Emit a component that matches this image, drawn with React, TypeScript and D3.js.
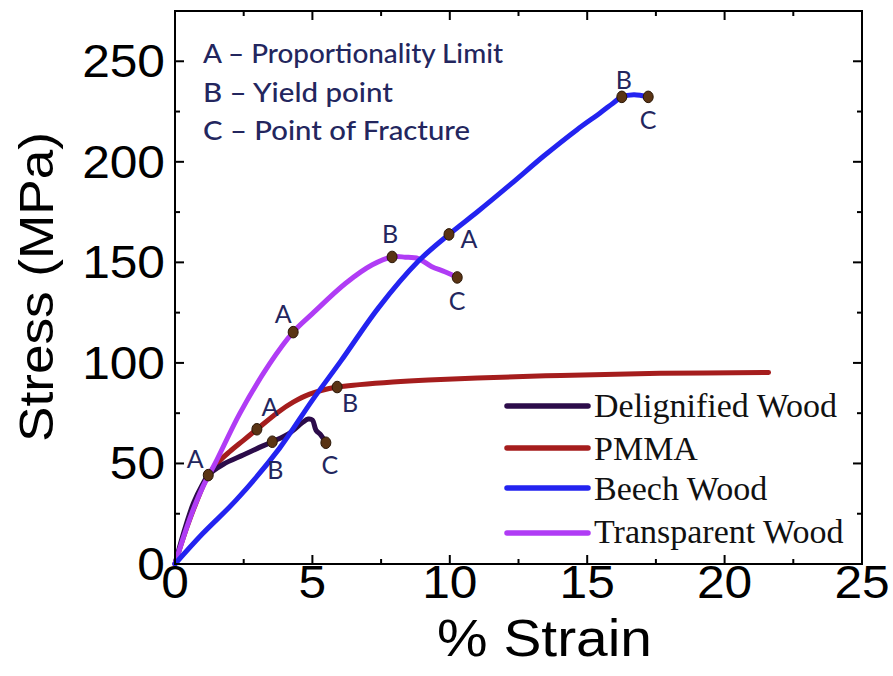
import React from 'react';
import * as d3 from 'd3';

// ---- data ----
const strainTicks = [0, 5, 10, 15, 20, 25];
const stressTicks = [0, 50, 100, 150, 200, 250];
const strainMinor = [2.5, 7.5, 12.5, 17.5, 22.5];
const stressMinor = [25, 75, 125, 175, 225];

const delignifiedStrain = [0, 0.31, 0.67, 1.0, 1.21, 1.76, 2.48, 3.0, 3.54, 4.16, 4.64, 4.85, 5.0, 5.13, 5.31, 5.49];
const delignifiedStress = [0, 15.3, 30.2, 39.5, 44.2, 49.6, 54.2, 57.5, 60.8, 65, 70.4, 72.1, 71.6, 66.6, 64.1, 60.3];

const pmmaStrain = [0, 0.3, 0.7, 1.21, 1.6, 2.0, 2.49, 2.98, 3.75, 4.3, 4.9, 5.9, 6.72, 7.93, 9.22, 11, 14.04, 17.65, 21.6];
const pmmaStress = [0, 13, 28, 44.2, 51, 56, 61.5, 67, 75.5, 80.5, 84.5, 88, 89.2, 90.5, 91.5, 92.5, 93.8, 94.8, 95.2];

const beechStrain = [0, 1, 2.24, 3.8, 5.0, 6.04, 7.41, 8.85, 9.97, 11.03, 12.23, 13.43, 14.63, 15.47, 15.95, 16.26, 16.7, 17.22];
const beechStress = [0, 15, 32, 57.5, 81.5, 101, 127.5, 150.5, 163.9, 175.4, 189, 203, 216, 224.3, 229.3, 232.3, 233.4, 232.3];

const transparentStrain = [0, 0.3, 0.61, 1.0, 1.46, 2.36, 3.44, 4.3, 5.0, 6.2, 7.18, 7.9, 8.38, 8.85, 9.33, 9.82, 10.27];
const transparentStress = [0, 13, 25.2, 38, 50, 74.9, 99.5, 115.3, 124.5, 139.5, 148.8, 152.7, 152.6, 151.9, 148, 145.3, 142.5];

const seriesNames = ['Delignified Wood', 'PMMA', 'Beech Wood', 'Transparent Wood'];

// marker points (strain, stress) and their letter
const markerLetters = ['A', 'B', 'C', 'A', 'B', 'A', 'B', 'C', 'A', 'B', 'C'];
const markerStrain = [1.21, 3.54, 5.49, 2.98, 5.9, 4.3, 7.9, 10.27, 9.97, 16.26, 17.22];
const markerStress = [44.2, 60.8, 60.3, 67, 88, 115.3, 152.7, 142.5, 163.9, 232.3, 232.3];

const noteLines = ['A \u2013 Proportionality Limit', 'B \u2013 Yield point', 'C \u2013 Point of Fracture'];

// ---- styling / layout ----
const W = 893;
const H = 676;
const colors = ['#2c0c4a', '#a51d1d', '#2323f0', '#b03cf5'];
const drawOrder = [1, 0, 3, 2];
const labelOffsets: [number, number][] = [
  [-13, -17], [3, 27], [4, 21], [13, -23], [13, 15], [-10, -19], [-2, -24], [0, 23], [20, 4], [2, -18], [0, 22],
];
const noteWidths = [300, 190, 267];
const navy = '#23265e';

export default function App() {
  const x = d3.scaleLinear().domain([0, 25]).range([175, 862]);
  const y = d3.scaleLinear().domain([0, 275]).range([564, 11]);

  const series = [
    { s: delignifiedStrain, v: delignifiedStress },
    { s: pmmaStrain, v: pmmaStress },
    { s: beechStrain, v: beechStress },
    { s: transparentStrain, v: transparentStress },
  ];

  const line = d3
    .line<[number, number]>()
    .x((d) => x(d[0]))
    .y((d) => y(d[1]))
    .curve(d3.curveCatmullRom.alpha(0.5));

  const [x0, x1] = x.range();
  const [y0, y1] = y.range();
  const majorLen = 9;
  const minorLen = 5;
  const tickFont = 'Liberation Sans, Arial, sans-serif';

  return (
    <svg width={W} height={H} style={{ position: 'absolute', left: 0, top: 0, background: '#fff' }}>
      <rect x={0} y={0} width={W} height={H} fill="#fff" />

      {/* curves */}
      {drawOrder.map((i) => (
        <path
          key={i}
          d={line(series[i].s.map((s, k) => [s, series[i].v[k]] as [number, number])) || ''}
          fill="none"
          stroke={colors[i]}
          strokeWidth={5}
          strokeLinejoin="round"
          strokeLinecap="round"
        />
      ))}

      {/* markers */}
      {markerStrain.map((s, i) => (
        <g key={'m' + i}>
          <ellipse cx={x(s)} cy={y(markerStress[i])} rx={5} ry={5.8} fill="#5a3414" stroke="#2a1606" strokeWidth={1} />
          <text
            x={x(s) + labelOffsets[i][0]}
            y={y(markerStress[i]) + labelOffsets[i][1]}
            fontFamily="Lato, 'Open Sans', sans-serif"
            fontSize={25}
            fill={navy}
            textAnchor="middle"
            dominantBaseline="central"
          >
            {markerLetters[i]}
          </text>
        </g>
      ))}

      {/* frame */}
      <rect x={x0} y={y1} width={x1 - x0} height={y0 - y1} fill="none" stroke="#000" strokeWidth={2} />

      {/* x ticks bottom & top */}
      {strainTicks.map((t) => (
        <g key={'xt' + t}>
          <line x1={x(t)} x2={x(t)} y1={y0} y2={y0 - majorLen} stroke="#000" strokeWidth={2} />
          <line x1={x(t)} x2={x(t)} y1={y1} y2={y1 + majorLen} stroke="#000" strokeWidth={2} />
          <text
            transform={`translate(${x(t)},598) scale(1.08,1)`}
            fontFamily={tickFont}
            fontSize={46}
            textAnchor="middle"
            fill="#000"
          >
            {t}
          </text>
        </g>
      ))}
      {strainMinor.map((t) => (
        <g key={'xm' + t}>
          <line x1={x(t)} x2={x(t)} y1={y0} y2={y0 - minorLen} stroke="#000" strokeWidth={2} />
          <line x1={x(t)} x2={x(t)} y1={y1} y2={y1 + minorLen} stroke="#000" strokeWidth={2} />
        </g>
      ))}

      {/* y ticks left & right */}
      {stressTicks.map((t) => (
        <g key={'yt' + t}>
          <line x1={x0} x2={x0 + majorLen} y1={y(t)} y2={y(t)} stroke="#000" strokeWidth={2} />
          <line x1={x1} x2={x1 - majorLen} y1={y(t)} y2={y(t)} stroke="#000" strokeWidth={2} />
          <text
            transform={`translate(165,${y(t)}) scale(1.08,1)`}
            fontFamily={tickFont}
            fontSize={46}
            textAnchor="end"
            dominantBaseline="central"
            fill="#000"
          >
            {t}
          </text>
        </g>
      ))}
      {stressMinor.map((t) => (
        <g key={'ym' + t}>
          <line x1={x0} x2={x0 + minorLen} y1={y(t)} y2={y(t)} stroke="#000" strokeWidth={2} />
          <line x1={x1} x2={x1 - minorLen} y1={y(t)} y2={y(t)} stroke="#000" strokeWidth={2} />
        </g>
      ))}

      {/* axis titles */}
      <text
        x={437}
        y={656}
        fontFamily={tickFont}
        fontSize={52}
        textLength={215}
        lengthAdjust="spacingAndGlyphs"
        fill="#000"
      >
        % Strain
      </text>
      <text
        transform="translate(53,442) rotate(-90)"
        x={0}
        y={0}
        fontFamily={tickFont}
        fontSize={48}
        textLength={310}
        lengthAdjust="spacingAndGlyphs"
        fill="#000"
      >
        Stress (MPa)
      </text>

      {/* notes */}
      {noteLines.map((t, i) => (
        <text
          key={'n' + i}
          x={203}
          y={63 + i * 38.5}
          fontFamily="Lato, 'Open Sans', sans-serif"
          fontSize={27}
          fontWeight={500}
          textLength={noteWidths[i]}
          lengthAdjust="spacingAndGlyphs"
          fill={navy}
        >
          {t}
        </text>
      ))}

      {/* legend */}
      {seriesNames.map((n, i) => {
        const ly = [406, 448, 488, 533][i];
        const by = [417, 460, 500, 543][i];
        return (
          <g key={'l' + i}>
            <line x1={507} x2={588} y1={ly} y2={ly} stroke={colors[i]} strokeWidth={5.5} strokeLinecap="round" />
            <text x={594} y={by} fontFamily="'Liberation Serif', 'Times New Roman', serif" fontSize={34} fill="#111">
              {n}
            </text>
          </g>
        );
      })}
    </svg>
  );
}
